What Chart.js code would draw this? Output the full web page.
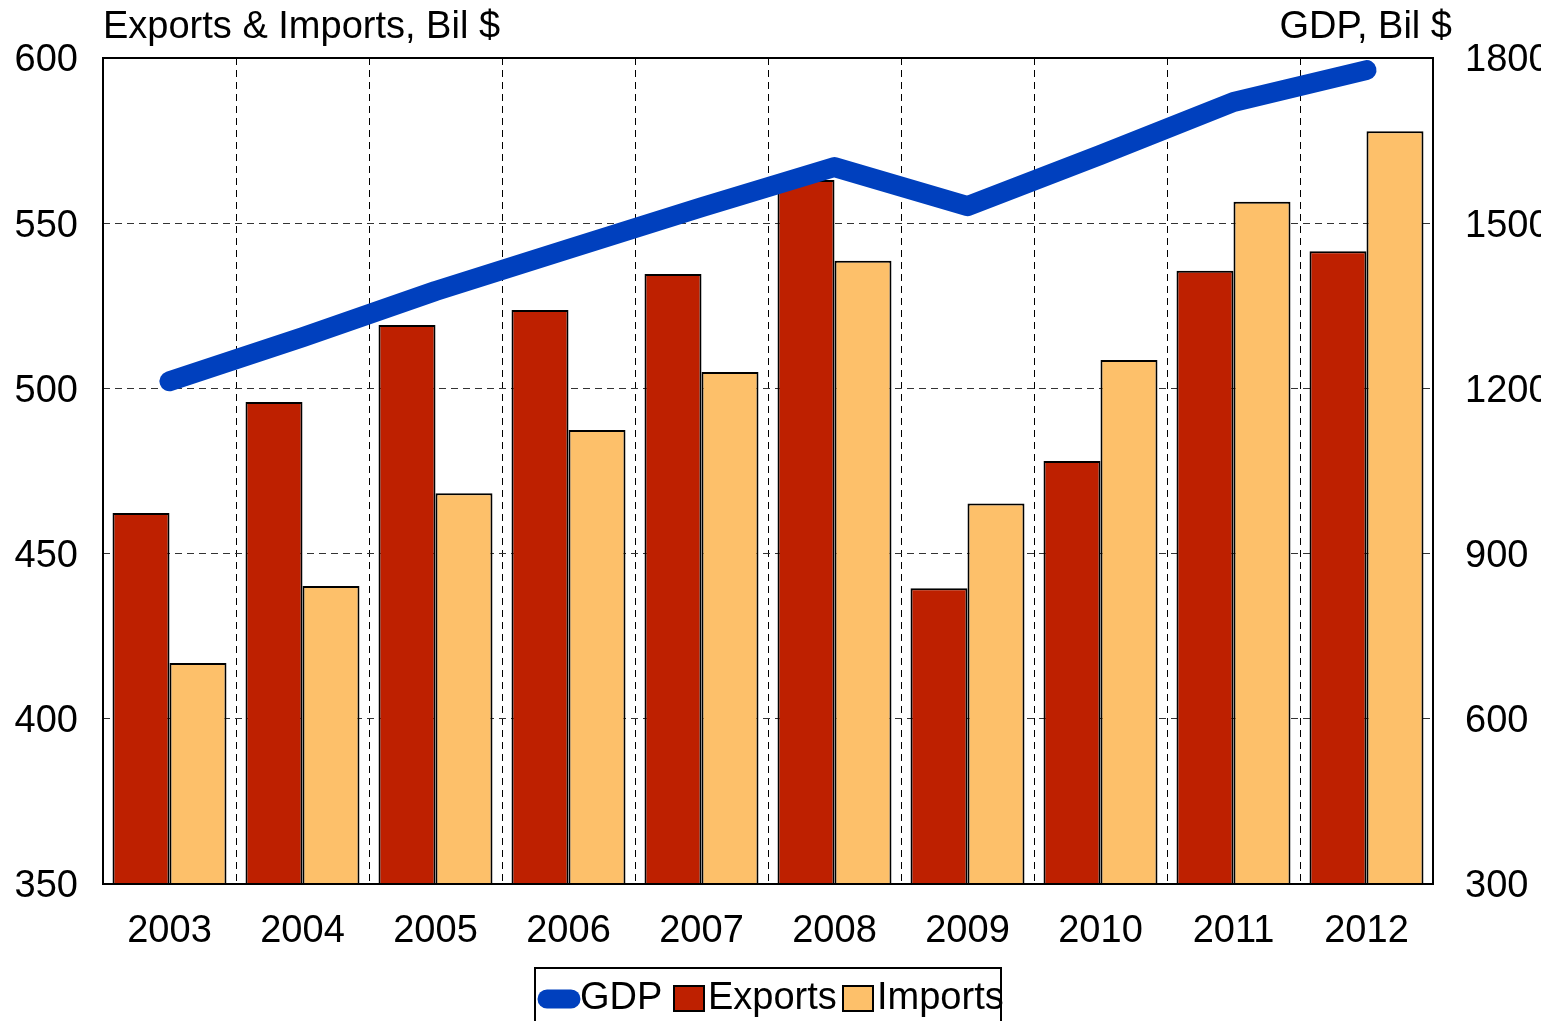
<!DOCTYPE html>
<html><head><meta charset="utf-8">
<script src="https://cdn.jsdelivr.net/npm/chart.js@4/dist/chart.umd.min.js"></script>
<style>html,body{margin:0;padding:0;background:#fff;overflow:hidden}
#wrap{position:relative;width:1541px;height:1021px}</style>
</head><body><div id="wrap"><canvas id="c"></canvas></div>
<script>
const categories = ['2003','2004','2005','2006','2007','2008','2009','2010','2011','2012'];
const gdpValues = [1213,1293,1377,1453,1529,1602,1531,1624,1720,1778];
const exportValues = [462.3,495.9,519.2,523.7,534.6,563.1,439.5,478.0,535.6,541.5];
const importValues = [416.9,440.2,468.3,487.4,505.0,538.6,465.2,508.6,556.5,577.8];
const leftAxisRange = [350, 600, 50];
const rightAxisRange = [300, 1800, 300];
const leftAxisTitle = 'Exports & Imports, Bil $';
const rightAxisTitle = 'GDP, Bil $';
const seriesNames = ['GDP','Exports','Imports'];

const FONT = '"Liberation Sans", Arial, sans-serif';
const FS = 38;
const BLUE = '#0040BE', RED = '#BE2000', ORANGE = '#FDC06A';

const decor = {
  id: 'decor',
  afterDraw(chart) {
    const ctx = chart.ctx, a = chart.chartArea;
    ctx.save();
    ctx.strokeStyle = '#000'; ctx.lineWidth = 2;
    ctx.strokeRect(a.left, a.top, a.right - a.left, a.bottom - a.top);
    ctx.fillStyle = '#000';
    ctx.font = FS + 'px ' + FONT;
    ctx.textBaseline = 'middle';
    ctx.textAlign = 'left';
    ctx.fillText(leftAxisTitle, a.left, 28);
    ctx.textAlign = 'right';
    ctx.fillText(rightAxisTitle, 1452, 28);
    // legend
    ctx.lineWidth = 2;
    ctx.strokeRect(535, 968, 466, 70);
    const ly = 999;
    ctx.strokeStyle = BLUE; ctx.lineWidth = 19; ctx.lineCap = 'round';
    ctx.beginPath(); ctx.moveTo(547, ly); ctx.lineTo(571, ly); ctx.stroke();
    ctx.lineCap = 'butt';
    ctx.textAlign = 'left';
    ctx.fillStyle = '#000';
    ctx.fillText(seriesNames[0], 580, ly);
    ctx.fillStyle = RED; ctx.fillRect(674, 986, 30, 25);
    ctx.strokeStyle = '#000'; ctx.lineWidth = 2; ctx.strokeRect(674, 986, 30, 25);
    ctx.fillStyle = '#000'; ctx.fillText(seriesNames[1], 708, ly);
    ctx.fillStyle = ORANGE; ctx.fillRect(843, 986, 30, 25);
    ctx.strokeRect(843, 986, 30, 25);
    ctx.fillStyle = '#000'; ctx.fillText(seriesNames[2], 877, ly);
    ctx.restore();
  }
};

new Chart(document.getElementById('c'), {
  data: {
    labels: categories,
    datasets: [
      { type: 'line', label: seriesNames[0], data: gdpValues, yAxisID: 'y1', order: 0,
        borderColor: BLUE, borderWidth: 20, pointRadius: 0, borderCapStyle: 'round',
        borderJoinStyle: 'round', tension: 0, clip: false },
      { type: 'bar', label: seriesNames[1], data: exportValues, yAxisID: 'y', order: 1,
        backgroundColor: RED, borderColor: '#000', borderWidth: 2,
        categoryPercentage: 0.857, barPercentage: 1.0 },
      { type: 'bar', label: seriesNames[2], data: importValues, yAxisID: 'y', order: 1,
        backgroundColor: ORANGE, borderColor: '#000', borderWidth: 2,
        categoryPercentage: 0.857, barPercentage: 1.0 }
    ]
  },
  options: {
    responsive: true, maintainAspectRatio: false, animation: false, devicePixelRatio: 1,
    layout: { padding: { top: 58, left: 0, right: 0, bottom: 0 } },
    plugins: { legend: { display: false }, tooltip: { enabled: false } },
    scales: {
      x: {
        type: 'category', offset: true,
        grid: { display: true, offset: true, color: '#000', lineWidth: 1, drawTicks: false },
        border: { display: false, dash: [7, 5] },
        ticks: { color: '#000', font: { family: FONT, size: FS }, padding: 25, maxRotation: 0 },
        afterFit: s => { s.height = 137; }
      },
      y: {
        position: 'left', min: leftAxisRange[0], max: leftAxisRange[1],
        grid: { color: '#333', lineWidth: 1, drawTicks: false },
        border: { display: false, dash: [7, 5] },
        ticks: { stepSize: leftAxisRange[2], color: '#000', font: { family: FONT, size: FS },
                 padding: 25, labelOffset: 3, callback: v => String(v) },
        afterFit: s => { s.width = 103; }
      },
      y1: {
        position: 'right', min: rightAxisRange[0], max: rightAxisRange[1],
        grid: { display: false, drawTicks: false },
        border: { display: false },
        ticks: { stepSize: rightAxisRange[2], color: '#000', font: { family: FONT, size: FS },
                 padding: 32, labelOffset: 3, callback: v => String(v) },
        afterFit: s => { s.width = 108; }
      }
    }
  },
  plugins: [decor]
});
</script></body></html>
